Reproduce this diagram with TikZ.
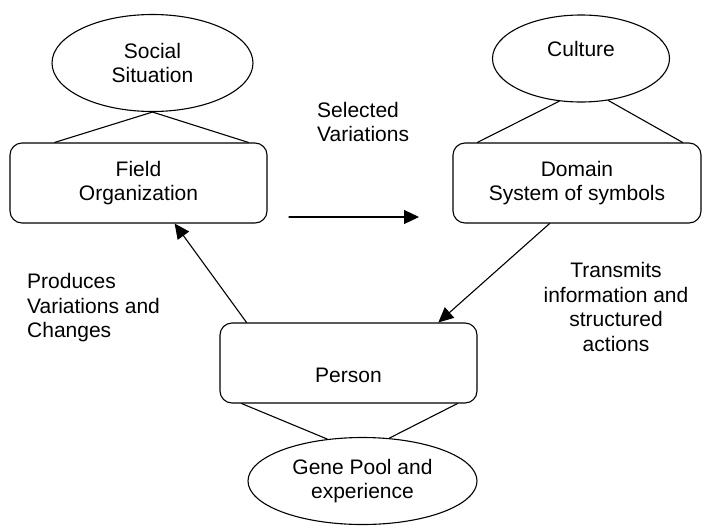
\documentclass[tikz,border=0pt]{standalone}
\usepackage{fontspec}
\setmainfont{Liberation Sans}
\usetikzlibrary{arrows.meta,calc,positioning,shapes.geometric}

\begin{document}
\begin{tikzpicture}[x=1pt,y=-1pt,>=Latex,line cap=round,line join=round]
\path[fill=white] (0,0) rectangle (703,525);
\useasboundingbox (0,0) rectangle (703,525);
\tikzset{txt/.style={font=\fontsize{21}{24.5}\selectfont},box/.style={txt,draw=black,line width=1.1pt,rounded corners=12pt,inner sep=0pt,align=center},oval/.style={txt,draw=black,ellipse,line width=1.1pt,inner sep=0pt,align=center},tie/.style={draw=black,line width=1.1pt},flow/.style={draw=black,line width=1.1pt,-{Triangle[length=15pt,width=14pt]}},lbl/.style={txt,inner sep=0pt}}
\node[oval,minimum width=201pt,minimum height=97pt] (social) at (152.5,63) {Social\\Situation};
\node[box,minimum width=257pt,minimum height=80pt] (field) at (138.5,183) {Field\\Organization};
\node[oval,minimum width=177pt,minimum height=87pt] (culture) at (581,58.5) {\raisebox{2.5pt}[0pt][0pt]{Culture}};
\node[box,minimum width=248pt,minimum height=80pt] (domain) at (577,183) {Domain\\System of symbols};
\node[box,minimum width=257pt,minimum height=80pt] (person) at (348.5,363) {\raisebox{-19.5pt}[0pt][0pt]{Person}};
\node[oval,minimum width=229pt,minimum height=87pt] (gene) at (362.5,481) {Gene Pool and\\experience};
\draw[tie] ($(field.north west)!0.175!(field.north east)$) -- (social.south) -- ($(field.north west)!0.926!(field.north east)$);
\draw[tie] ($(domain.north west)!0.10!(domain.north east)$) -- (culture.243);
\draw[tie] ($(domain.north west)!0.924!(domain.north east)$) -- (culture.303);
\draw[tie] ($(person.south west)!0.086!(person.south east)$) -- (gene.130);
\draw[tie] ($(person.south west)!0.922!(person.south east)$) -- (gene.58);
\node[lbl,anchor=west,align=left] (selText) at (317,122) {Selected\\Variations};
\coordinate (selFrom) at (289,217);
\coordinate (selTo) at (419,217);
\draw[flow] (selFrom) -- (selTo);
\draw[flow] ($(person.north west)!0.105!(person.north east)$) -- ($(field.south west)!0.64!(field.south east)$);
\draw[flow] ($(domain.south west)!0.39!(domain.south east)$) -- ($(person.north west)!0.848!(person.north east)$);
\node[lbl,anchor=west,align=left] (prodText) at (27,308) {Produces\\Variations and\\Changes};
\node[lbl,align=center] (transText) at (616,307) {Transmits\\information and\\structured\\actions};
\end{tikzpicture}
\end{document}
